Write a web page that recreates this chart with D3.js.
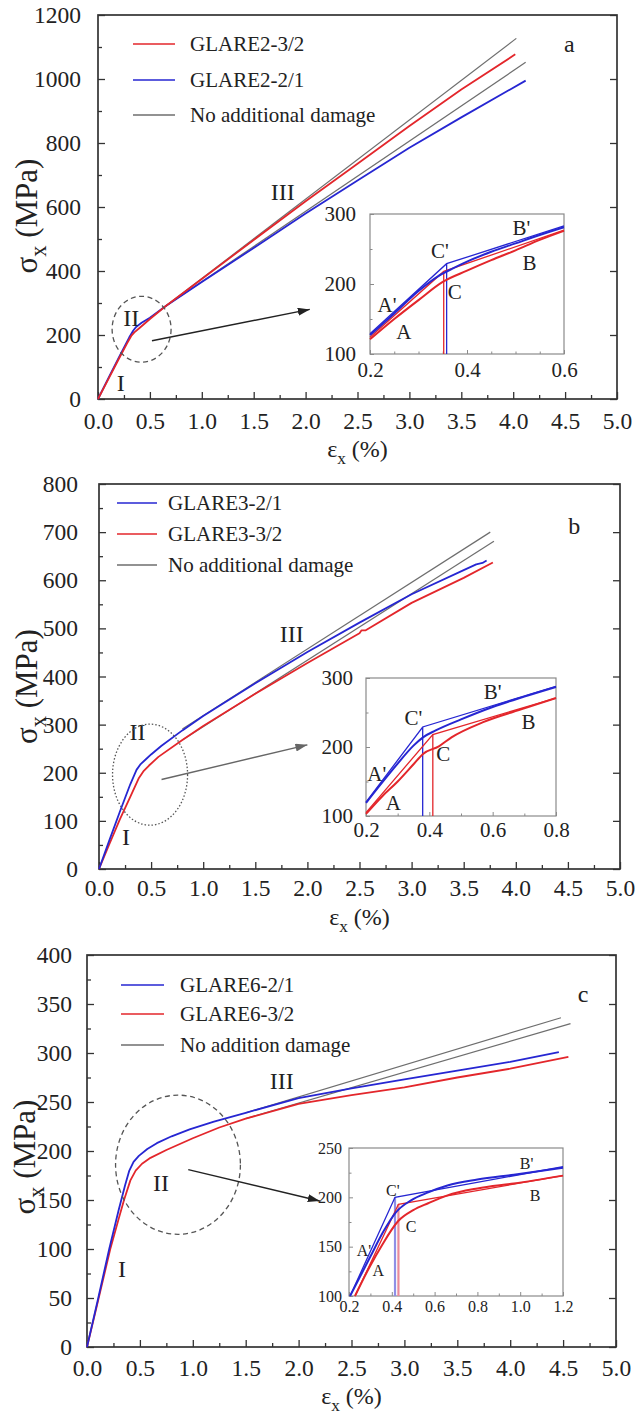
<!DOCTYPE html>
<html>
<head>
<meta charset="utf-8">
<script src="https://cdn.jsdelivr.net/npm/d3@7"></script>
<style>
  body { margin: 0; background: #fff; }
</style>
</head>
<body>
<svg id="chart" width="635" height="1414"></svg>
<script>
// ---------- panel a : GLARE2 ----------
const aRed   = [[0,0],[0.1,62],[0.2,125],[0.28,174],[0.32,197],[0.35,208],[0.4,222],[0.5,250],[0.65,290],[1.0,375],[1.5,497],[2.0,618],[2.5,735],[3.0,853],[3.5,967],[4.02,1077]];
const aBlue  = [[0,0],[0.1,65],[0.2,129],[0.3,192],[0.34,214],[0.37,226],[0.42,238],[0.5,254],[0.65,290],[1.0,366],[1.5,472],[2.0,580],[2.5,683],[3.0,785],[3.5,880],[4.12,995]];
const aGrayUp  = [[0.65,290],[4.03,1127]];
const aGrayLow = [[0.65,290],[4.12,1052]];
const aInRed     = [[0.2,121],[0.25,150],[0.3,177],[0.35,203],[0.4,219],[0.45,234],[0.5,248],[0.55,263],[0.6,276]];
const aInRedFit  = [[0.2,124],[0.352,218],[0.6,277]];
const aInBlue    = [[0.2,127],[0.25,158],[0.3,190],[0.34,211],[0.37,222],[0.4,232],[0.45,246],[0.5,258],[0.55,270],[0.6,281]];
const aInBlueFit = [[0.2,129],[0.358,229],[0.6,283]];
const aRedDrop  = [[0.352,100],[0.352,218]];
const aBlueDrop = [[0.358,100],[0.358,229]];
const aLegend = ['GLARE2-3/2','GLARE2-2/1','No additional damage'];

// ---------- panel b : GLARE3 ----------
const bBlue  = [[0,0],[0.1,60],[0.2,119],[0.3,176],[0.36,206],[0.4,218],[0.45,228],[0.5,238],[0.6,256],[0.8,288],[1.0,318],[1.5,386],[2.0,451],[2.5,512],[3.0,571],[3.5,621],[3.62,633],[3.68,636],[3.72,641]];
const bRed   = [[0,0],[0.1,52],[0.2,103],[0.3,150],[0.38,188],[0.43,204],[0.48,215],[0.57,233],[0.8,268],[1.0,297],[1.5,364],[2.0,428],[2.5,490],[2.52,496],[2.56,496],[3.0,553],[3.5,605],[3.78,637]];
const bGrayUp  = [[0.8,291],[3.755,700]];
const bGrayLow = [[0.8,268],[3.79,681]];
const bInBlue    = [[0.2,119],[0.25,148],[0.3,176],[0.35,202],[0.38,214],[0.42,224],[0.5,240],[0.6,258],[0.7,273],[0.8,287]];
const bInBlueFit = [[0.2,120],[0.379,229],[0.8,288]];
const bInRed     = [[0.2,103],[0.25,128],[0.3,150],[0.35,175],[0.38,190],[0.43,201],[0.47,214],[0.57,236],[0.7,256],[0.8,271]];
const bInRedFit  = [[0.2,105],[0.411,218],[0.8,271]];
const bBlueDrop = [[0.379,100],[0.379,229]];
const bRedDrop  = [[0.411,100],[0.411,218]];
const bLegend = ['GLARE3-2/1','GLARE3-3/2','No additional damage'];

// ---------- panel c : GLARE6 ----------
const cBlue  = [[0,0],[0.1,47],[0.21,100],[0.3,140],[0.36,165],[0.4,180],[0.44,189],[0.49,195],[0.57,202],[0.66,208],[0.8,215],[0.97,222],[1.2,230],[1.5,239],[2.0,254],[2.5,264],[3.0,273],[3.5,282],[4.0,291],[4.46,301]];
const cRed   = [[0,0],[0.1,45],[0.22,100],[0.3,131],[0.35,150],[0.41,170],[0.46,180],[0.52,187],[0.6,193],[0.75,201],[1.0,213],[1.25,224],[1.5,233],[2.0,248],[2.5,257],[3.0,265],[3.5,275],[4.0,284],[4.55,296]];
const cGrayUp  = [[1.5,239],[4.48,336]];
const cGrayLow = [[1.5,233],[4.57,330]];
const cInBlue    = [[0.205,100],[0.3,140],[0.36,165],[0.42,185],[0.49,197],[0.57,205],[0.66,212],[0.8,218],[0.97,223],[1.2,230]];
const cInBlueFit = [[0.205,100],[0.415,200],[1.2,231]];
const cInRed     = [[0.228,100],[0.3,131],[0.35,150],[0.43,176],[0.5,187],[0.57,194],[0.66,202],[0.8,209],[0.97,214],[1.2,222]];
const cInRedFit  = [[0.228,100],[0.431,193],[1.2,222]];
const cBlueDrop = [[0.415,100],[0.415,200]];
const cRedDrop  = [[0.431,100],[0.431,193]];
const cLegend = ['GLARE6-2/1','GLARE6-3/2','No addition damage'];

// ticks
const xMajor = d3.range(0, 11).map(i => i * 0.5);
const xMinor = d3.range(0, 10).map(i => i * 0.5 + 0.25);

const RED = '#e3262b', BLUE = '#2626d2', GRAY = '#6e6e6e';
const SERIF = '"Liberation Serif", "Times New Roman", "DejaVu Serif", serif';
const svg = d3.select('#chart');

const panels = [
  { left: 98, right: 617, top: 15, bottom: 399, yMax: 1200, yStep: 200, yPad: 17, xPad: 13,
    yTitleX: 37, yTitleShift: 9, xTitleDy: 58,
    lines: [[aGrayUp, GRAY, 1.2], [aGrayLow, GRAY, 1.2], [aBlue, BLUE, 1.8], [aRed, RED, 1.8]],
    legend: { names: aLegend, colors: [RED, BLUE, GRAY], x1: 133, x2: 175, tx: 190, dy: [29, 65, 100] },
    stages: [['I',0.22,51],['II',0.32,253],['III',1.78,647]],
    letter: ['a', 4.54, 1112],
    ring: { c: [0.42, 218], r: [0.284, 103], dash: '5,3.5' },
    arrow: { from: [0.52, 182], to: [2.04, 280], color: '#222' },
    inset: { box: [370, 564, 214, 354], xd: [0.2, 0.6], yd: [100, 300],
      xt: [0.2, 0.4, 0.6], xm: d3.range(1, 8).map(i => 0.2 + i * 0.05), yt: [100, 200, 300], ym: [150, 250],
      font: 21, yPad: 14, xPad: 8,
      drops: [[aRedDrop, RED], [aBlueDrop, BLUE]],
      fits: [[aInRedFit, RED], [aInBlueFit, BLUE]],
      curves: [[aInRed, RED], [aInBlue, BLUE]],
      labels: [["A'",0.235,170],['A',0.27,132],["C'",0.344,247],['C',0.375,189],["B'",0.512,280],['B',0.529,230]] } },
  { left: 99, right: 620, top: 484, bottom: 869, yMax: 800, yStep: 100, yPad: 21, xPad: 10,
    yTitleX: 37, yTitleShift: 10, xTitleDy: 56,
    lines: [[bGrayUp, GRAY, 1.2], [bGrayLow, GRAY, 1.2], [bRed, RED, 1.8], [bBlue, BLUE, 1.8]],
    legend: { names: bLegend, colors: [BLUE, RED, GRAY], x1: 117, x2: 157, tx: 168, dy: [19, 50, 81] },
    stages: [['I',0.26,68],['II',0.37,285],['III',1.85,490]],
    letter: ['b', 4.56, 714],
    ring: { c: [0.49, 196], r: [0.36, 105], dash: '1.5,2' },
    arrow: { from: [0.6, 186], to: [2.0, 258], color: '#666' },
    inset: { box: [366, 556, 678, 816], xd: [0.2, 0.8], yd: [100, 300],
      xt: [0.2, 0.4, 0.6, 0.8], xm: [0.3, 0.5, 0.7], yt: [100, 200, 300], ym: [150, 250],
      font: 21, yPad: 13, xPad: 6,
      drops: [[bRedDrop, RED], [bBlueDrop, BLUE]],
      fits: [[bInRedFit, RED], [bInBlueFit, BLUE]],
      curves: [[bInRed, RED], [bInBlue, BLUE]],
      labels: [["A'",0.234,162],['A',0.286,120],["C'",0.35,242],['C',0.444,191],["B'",0.6,280],['B',0.713,237]] } },
  { left: 87, right: 616, top: 955, bottom: 1347, yMax: 400, yStep: 50, yPad: 15, xPad: 12,
    yTitleX: 35, yTitleShift: 6, xTitleDy: 57,
    lines: [[cGrayUp, GRAY, 1.2], [cGrayLow, GRAY, 1.2], [cRed, RED, 1.8], [cBlue, BLUE, 1.8]],
    legend: { names: cLegend, colors: [BLUE, RED, GRAY], x1: 121, x2: 164, tx: 180, dy: [30, 59, 90] },
    stages: [['I',0.33,80],['II',0.7,168],['III',1.84,272]],
    letter: ['c', 4.69, 361],
    ring: { c: [0.86, 186], r: [0.59, 71], dash: '5,3.5' },
    arrow: { from: [0.957, 181], to: [2.2, 149], color: '#222' },
    inset: { box: [349, 563, 1148, 1296], xd: [0.2, 1.2], yd: [100, 250],
      xt: [0.2, 0.4, 0.6, 0.8, 1.0, 1.2], xm: [0.3, 0.5, 0.7, 0.9, 1.1], yt: [100, 150, 200, 250], ym: [125, 175, 225],
      font: 16, yPad: 7, xPad: 5,
      drops: [[cRedDrop, '#e98a9a'], [cBlueDrop, '#8f8fe6']],
      fits: [[cInRedFit, RED], [cInBlueFit, BLUE]],
      curves: [[cInRed, RED], [cInBlue, BLUE]],
      labels: [["A'",0.27,146],['A',0.337,126],["C'",0.405,207],['C',0.49,171],["B'",1.03,234],['B',1.07,202]] } }
];

const defs = svg.append('defs');
['#222', '#666'].forEach((col, i) => {
  defs.append('marker').attr('id', 'head' + i)
    .attr('viewBox', '0 0 12 8').attr('refX', 12).attr('refY', 4)
    .attr('markerWidth', 12).attr('markerHeight', 8).attr('markerUnits', 'userSpaceOnUse')
    .attr('orient', 'auto')
    .append('path').attr('d', 'M0,0L12,4L0,8Z').attr('fill', col);
});

function subText(sel, main, sub, rest, size) {
  sel.append('tspan').text(main);
  sel.append('tspan').attr('font-size', size * 0.72).attr('dy', size * 0.28).text(sub);
  sel.append('tspan').attr('dy', -size * 0.28).text(rest);
}

function styleAxis(g) {
  g.select('.domain').remove();
  g.selectAll('line').attr('stroke', '#333').attr('stroke-width', 1.3);
}

function drawInset(p, q) {
  const [l, r, t, b] = q.box;
  const x = d3.scaleLinear().domain(q.xd).range([l, r]);
  const y = d3.scaleLinear().domain(q.yd).range([b, t]);
  const line = d3.line().x(d => x(d[0])).y(d => y(d[1]));
  const smooth = d3.line().x(d => x(d[0])).y(d => y(d[1])).curve(d3.curveMonotoneX);
  const g = svg.append('g');

  g.append('rect').attr('x', l).attr('y', t).attr('width', r - l).attr('height', b - t)
    .attr('fill', '#fff').attr('stroke', '#8a8a8a').attr('stroke-width', 1.2);

  const xa = g.append('g').attr('transform', `translate(0,${b})`)
    .call(d3.axisBottom(x).tickValues(q.xt).tickFormat(d3.format('.1f')).tickSize(-4).tickPadding(q.xPad));
  const xm = g.append('g').attr('transform', `translate(0,${b})`)
    .call(d3.axisBottom(x).tickValues(q.xm).tickFormat('').tickSize(-2.5));
  const ya = g.append('g').attr('transform', `translate(${l},0)`)
    .call(d3.axisLeft(y).tickValues(q.yt).tickFormat(d3.format('d')).tickSize(-4).tickPadding(q.yPad));
  const ym = g.append('g').attr('transform', `translate(${l},0)`)
    .call(d3.axisLeft(y).tickValues(q.ym).tickFormat('').tickSize(-2.5));
  [xa, xm, ya, ym].forEach(a => {
    a.attr('font-family', SERIF).attr('font-size', q.font);
    a.select('.domain').remove();
    a.selectAll('line').attr('stroke', '#8a8a8a');
  });

  q.drops.forEach(([d, c]) => g.append('path').attr('d', line(d)).attr('fill', 'none')
    .attr('stroke', c).attr('stroke-width', q.font < 18 ? 2.2 : 1.3));
  q.fits.forEach(([d, c]) => g.append('path').attr('d', line(d)).attr('fill', 'none')
    .attr('stroke', c).attr('stroke-width', 1.3));
  q.curves.forEach(([d, c]) => g.append('path').attr('d', smooth(d)).attr('fill', 'none')
    .attr('stroke', c).attr('stroke-width', 2));

  g.selectAll('.lab').data(q.labels).join('text')
    .attr('x', d => x(d[1])).attr('y', d => y(d[2])).attr('dy', '0.35em')
    .attr('text-anchor', 'middle').attr('font-size', q.font).text(d => d[0]);
}

function drawPanel(p) {
  const x = d3.scaleLinear().domain([0, 5]).range([p.left, p.right]);
  const y = d3.scaleLinear().domain([0, p.yMax]).range([p.bottom, p.top]);
  const line = d3.line().x(d => x(d[0])).y(d => y(d[1]));
  const g = svg.append('g');

  const yMajor = d3.range(0, p.yMax + 1, p.yStep);
  const yMinor = d3.range(p.yStep / 2, p.yMax, p.yStep);

  // axes, ticks pointing inward
  const xa = g.append('g').attr('transform', `translate(0,${p.bottom})`)
    .call(d3.axisBottom(x).tickValues(xMajor).tickFormat(d3.format('.1f')).tickSize(-7).tickPadding(p.xPad));
  const xm = g.append('g').attr('transform', `translate(0,${p.bottom})`)
    .call(d3.axisBottom(x).tickValues(xMinor).tickFormat('').tickSize(-4));
  const ya = g.append('g').attr('transform', `translate(${p.left},0)`)
    .call(d3.axisLeft(y).tickValues(yMajor).tickFormat(d3.format('d')).tickSize(-7).tickPadding(p.yPad));
  const ym = g.append('g').attr('transform', `translate(${p.left},0)`)
    .call(d3.axisLeft(y).tickValues(yMinor).tickFormat('').tickSize(-4));
  const yr = g.append('g').attr('transform', `translate(${p.right},0)`)
    .call(d3.axisRight(y).tickValues(yMajor).tickFormat('').tickSize(-7));
  [xa, xm, ya, ym, yr].forEach(styleAxis);
  [xa, ya].forEach(a => a.attr('font-family', SERIF).attr('font-size', 23.5));

  g.append('rect').attr('x', p.left).attr('y', p.top)
    .attr('width', p.right - p.left).attr('height', p.bottom - p.top)
    .attr('fill', 'none').attr('stroke', '#333').attr('stroke-width', 1.7);

  // axis titles
  subText(g.append('text').attr('x', (p.left + p.right) / 2).attr('y', p.bottom + p.xTitleDy)
    .attr('text-anchor', 'middle').attr('font-size', 24), 'ε', 'x', ' (%)', 24);
  subText(g.append('text')
    .attr('transform', `translate(${p.yTitleX},${(p.top + p.bottom) / 2 + p.yTitleShift}) rotate(-90)`)
    .attr('text-anchor', 'middle').attr('font-size', 31), 'σ', 'x', ' (MPa)', 31);

  // curves
  p.lines.forEach(([d, c, w]) => g.append('path').attr('d', line(d)).attr('fill', 'none')
    .attr('stroke', c).attr('stroke-width', w).attr('stroke-linejoin', 'round'));

  // legend
  const lg = p.legend;
  lg.names.forEach((n, i) => {
    const yy = p.top + lg.dy[i];
    g.append('line').attr('x1', lg.x1).attr('x2', lg.x2).attr('y1', yy).attr('y2', yy)
      .attr('stroke', lg.colors[i]).attr('stroke-width', 1.6);
    g.append('text').attr('x', lg.tx).attr('y', yy).attr('dy', '0.35em')
      .attr('font-size', 21).text(n);
  });

  // stage labels, panel letter
  g.selectAll('.stage').data(p.stages).join('text')
    .attr('x', d => x(d[1])).attr('y', d => y(d[2])).attr('dy', '0.35em')
    .attr('text-anchor', 'middle').attr('font-size', 24).text(d => d[0]);
  g.append('text').attr('x', x(p.letter[1])).attr('y', y(p.letter[2])).attr('dy', '0.35em')
    .attr('text-anchor', 'middle').attr('font-size', 24).text(p.letter[0]);

  // dashed region and arrow to the inset
  const rg = p.ring;
  g.append('ellipse').attr('cx', x(rg.c[0])).attr('cy', y(rg.c[1]))
    .attr('rx', x(rg.c[0] + rg.r[0]) - x(rg.c[0])).attr('ry', y(rg.c[1]) - y(rg.c[1] + rg.r[1]))
    .attr('fill', 'none').attr('stroke', '#555').attr('stroke-width', 1.3).attr('stroke-dasharray', rg.dash);
  const ar = p.arrow;
  g.append('line').attr('x1', x(ar.from[0])).attr('y1', y(ar.from[1]))
    .attr('x2', x(ar.to[0])).attr('y2', y(ar.to[1]))
    .attr('stroke', ar.color).attr('stroke-width', 1.4)
    .attr('marker-end', `url(#head${ar.color === '#666' ? 1 : 0})`);

  drawInset(p, p.inset);
}

panels.forEach(drawPanel);

// every text in the serif face of the original figure
svg.selectAll('text').style('font-family', SERIF).style('fill', '#222');
</script>
</body>
</html>
